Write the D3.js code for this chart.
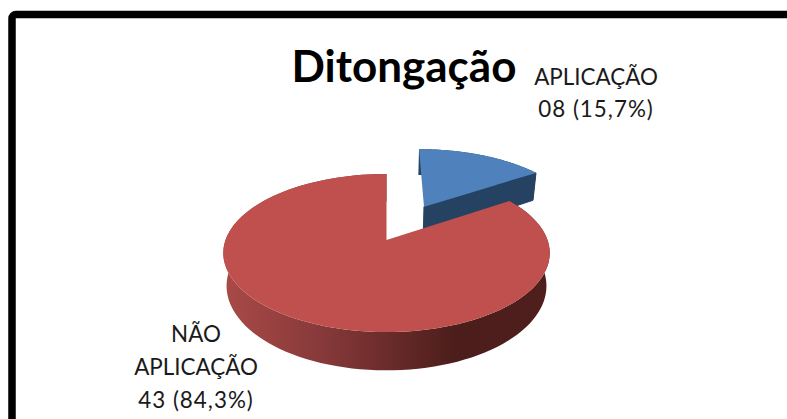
<!DOCTYPE html>
<html>
<head>
<meta charset="utf-8">
<script src="https://cdn.jsdelivr.net/npm/d3@7"></script>
<style>
  html, body { margin: 0; padding: 0; background: #fff; overflow: hidden; }
  text { font-family: Lato, "Open Sans", sans-serif; fill: #1a1a1a; }
</style>
</head>
<body>
<div id="chart"></div>
<script>
const titleText = "Ditongação";
const categories = ["APLICAÇÃO", "NÃO APLICAÇÃO"];
const values = [8, 43];
const valueLabels = ["08 (15,7%)", "43 (84,3%)"];

//dims
const width = 787, height = 419;
const cx = 386.5, apexY = 240;
const rx = 161, ry = 76.9, tilt = 0.1646;
const depth = 32, bottomShrink = 0.98;
const explode = 0.53;

const svg = d3.select("#chart").append("svg")
    .attr("width", width)
    .attr("height", height)
    .style("display", "block");

svg.append("rect").attr("width", width).attr("height", height).attr("fill", "#fff");

//frame, only top and left fall inside the picture
svg.append("rect")
    .attr("x", 12).attr("y", 14.5)
    .attr("width", width + 40).attr("height", height + 40)
    .attr("rx", 4)
    .attr("fill", "none")
    .attr("stroke", "#000")
    .attr("stroke-width", 7.5);

//slices start at the top and go clockwise
const slices = d3.pie().sort(null)(values);

//disc coords -> screen, with perspective so the near half looks bigger
function project(u, v, lower) {
    const s = 1 / (1 - tilt * v);
    const k = lower ? bottomShrink : 1;
    return [cx + rx * k * u * s, apexY + ry * v * s + (lower ? depth * s : 0)];
}

function edge(a, off, lower) {
    return project(off[0] + Math.sin(a), off[1] - Math.cos(a), lower);
}

const line = d3.line().curve(d3.curveLinear);
const arcAngles = (a0, a1) => d3.range(0, 121).map(i => a0 + (a1 - a0) * i / 120);

const defs = svg.append("defs");
const sideGrad = defs.append("linearGradient")
    .attr("id", "redSide")
    .attr("gradientUnits", "userSpaceOnUse")
    .attr("x1", cx - rx).attr("x2", cx + rx)
    .attr("y1", 0).attr("y2", 0);
[[0, "#a84a47"], [0.3, "#87393a"], [0.5, "#6b2c2a"], [0.72, "#4b1d1b"], [1, "#4f1f1d"]].forEach(d => {
    sideGrad.append("stop").attr("offset", d[0]).attr("stop-color", d[1]);
});

const topColor = ["#4f81bd", "#bf504d"];
const wallColor = ["#264263", "url(#redSide)"];

slices.forEach((d, i) => {
    const mid = (d.startAngle + d.endAngle) / 2;
    const off = i === 0 ? [explode * Math.sin(mid), -explode * Math.cos(mid)] : [0, 0];
    const angles = arcAngles(d.startAngle, d.endAngle);
    const g = svg.append("g");

    //round side
    g.append("path")
        .attr("d", line(angles.map(a => edge(a, off, false))
            .concat(angles.slice().reverse().map(a => edge(a, off, true)))) + "Z")
        .attr("fill", wallColor[i]);

    //cut wall facing the viewer
    if (i === 0) {
        g.append("path")
            .attr("d", line([
                project(off[0], off[1], false),
                edge(d.endAngle, off, false),
                edge(d.endAngle, off, true),
                project(off[0], off[1], true)
            ]) + "Z")
            .attr("fill", wallColor[i])
            .attr("stroke", wallColor[i])
            .attr("stroke-width", 1);
    }

    //top face
    g.append("path")
        .attr("d", line([project(off[0], off[1], false)].concat(angles.map(a => edge(a, off, false)))) + "Z")
        .attr("fill", topColor[i]);
});

//title
svg.append("text")
    .attr("x", 404).attr("y", 82)
    .attr("text-anchor", "middle")
    .attr("font-size", 44)
    .attr("font-weight", 700)
    .style("fill", "#000")
    .text(titleText);

//labels
const labelLines = [
    { x: 596, y: 85, dy: 32, rows: [categories[0], valueLabels[0]] },
    { x: 196, y: 342, dy: 33, rows: ["NÃO", "APLICAÇÃO", valueLabels[1]] }
];
labelLines.forEach(l => {
    svg.append("text")
        .attr("text-anchor", "middle")
        .attr("font-size", 22.4)
        .selectAll("tspan")
        .data(l.rows)
        .join("tspan")
        .attr("x", l.x)
        .attr("y", (d, i) => l.y + i * l.dy)
        .style("letter-spacing", d => valueLabels.includes(d) ? "1px" : null)
        .text(d => d);
});
</script>
</body>
</html>
